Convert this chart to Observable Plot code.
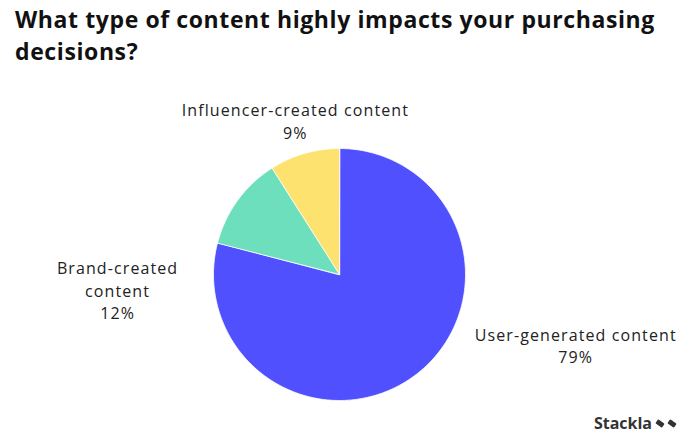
<!DOCTYPE html>
<html><head><meta charset="utf-8">
<script src="https://cdn.jsdelivr.net/npm/d3@7"></script>
<script src="https://cdn.jsdelivr.net/npm/@observablehq/plot@0.6"></script>
<style>
body{margin:0;background:#fff;width:682px;height:438px;overflow:hidden;position:relative;font-family:"Open Sans",sans-serif}
#title{height:75px;box-sizing:border-box;padding:3px 0 0 15px;font-weight:700;font-size:23px;letter-spacing:0.6px;line-height:32px;color:#111;white-space:nowrap}
#chart{height:363px}
#logo{position:absolute;right:6px;bottom:4px;font-weight:700;font-size:16px;color:#333;display:flex;align-items:center;gap:4px}
.ic{display:inline-block;width:8px;height:5px;background:#333;transform:rotate(35deg);border-radius:1px}
</style></head><body>
<div id="title">What type of content highly impacts your purchasing<br>decisions?</div>
<div id="chart"></div>
<div id="logo"><span>Stackla</span><span class="ic"></span><span class="ic"></span></div>
<script>
const categories = ["User-generated content", "Brand-created content", "Influencer-created content"];
const values = [79, 12, 9];
const labelNames = ["User-generated content", "Brand-created\ncontent", "Influencer-created content"];
const colors = ["#5050FF", "#6DDFBC", "#FEE270"];

const total = d3.sum(values);
let acc = 0;
const slices = categories.map((c, i) => {
  const a0 = acc / total * 360; acc += values[i]; const a1 = acc / total * 360;
  return {key: c, value: values[i], label: labelNames[i] + "\n" + values[i] + "%", a0, a1, mid: (a0 + a1) / 2};
});
const rad = a => a * Math.PI / 180;
const pts = slices.flatMap(s => {
  const out = [{key: s.key, x: 0, y: 0}];
  const n = Math.max(2, Math.ceil(s.a1 - s.a0));
  for (let k = 0; k <= n; k++) {
    const a = rad(s.a0 + (s.a1 - s.a0) * k / n);
    out.push({key: s.key, x: Math.sin(a), y: Math.cos(a)});
  }
  return out;
});

const labelOffsets = [[159, -29.5], [-120, 89], [-9, -33]];
const textMarks = slices.map((s, i) => Plot.text([s], {
  x: d => Math.sin(rad(d.mid)), y: d => Math.cos(rad(d.mid)), text: "label",
  dx: labelOffsets[i][0], dy: labelOffsets[i][1], lineAnchor: "middle",
  fontSize: 16, lineHeight: 1.4, fill: "#222", fontWeight: 500
}));

const chart = Plot.plot({
  width: 682, height: 363, margin: 0,
  style: {fontFamily: "'Open Sans', sans-serif", background: "transparent", letterSpacing: "1.1px"},
  x: {domain: [-1, 1], range: [213, 465], axis: null},
  y: {domain: [-1, 1], range: [325, 73], axis: null},
  color: {domain: categories, range: colors},
  marks: [
    Plot.line(pts, {x: "x", y: "y", z: "key", fill: "key", stroke: "white", strokeWidth: 0.8, curve: "linear-closed"}),
    ...textMarks
  ]
});
document.getElementById("chart").append(chart);
</script>
</body></html>
